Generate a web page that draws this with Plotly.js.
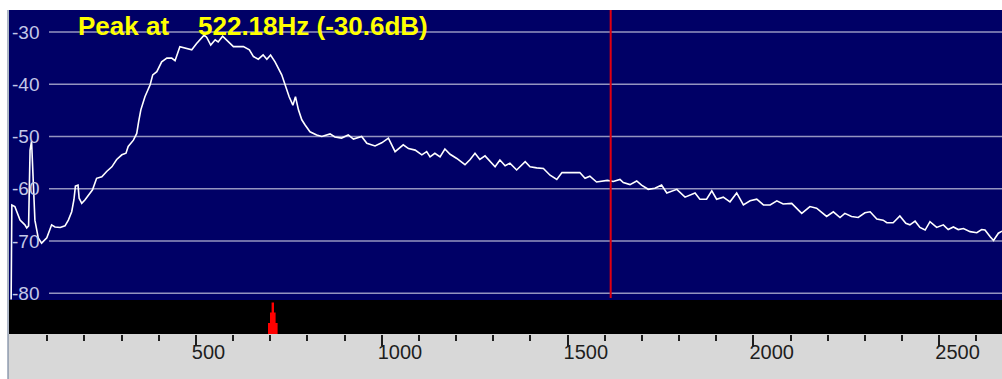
<!DOCTYPE html>
<html>
<head>
<meta charset="utf-8">
<script src="https://cdn.plot.ly/plotly-3.0.1.min.js"></script>
<style>
  html, body { margin: 0; padding: 0; background: #ffffff; }
  #spectrum { width: 1002px; height: 379px; }
</style>
</head>
<body>
<div id="spectrum"></div>
<script>
// Spectrum trace: frequency (Hz) and level (dB)
const freqHz = [
  3, 5, 13, 27, 40, 45, 50, 54, 58, 62, 67, 76, 85, 99, 112, 121, 135, 148, 157, 166,
  172, 176, 183, 186, 193, 202, 211, 222, 233, 247, 260, 274, 287, 301, 312, 318, 332, 341, 346, 352,
  363, 377, 384, 395, 408, 422, 435, 444, 457, 471, 489, 502, 516, 522.18, 529, 540, 552, 560, 572, 583,
  601, 628, 644, 655, 668, 681, 691, 701, 713, 731, 740, 751, 761, 768, 776, 785, 794, 807, 825, 839,
  861, 874, 892, 910, 924, 946, 960, 982, 1000, 1018, 1036, 1058, 1072, 1090, 1108, 1121, 1130, 1143, 1157, 1170,
  1184, 1202, 1224, 1238, 1251, 1264, 1278, 1291, 1305, 1318, 1332, 1345, 1363, 1386, 1399, 1417, 1435, 1453, 1471, 1485,
  1511, 1533, 1547, 1560, 1578, 1607, 1623, 1641, 1650, 1668, 1686, 1699, 1717, 1735, 1753, 1767, 1794, 1816, 1843, 1856,
  1874, 1888, 1901, 1919, 1937, 1955, 1973, 1991, 2009, 2027, 2045, 2063, 2080, 2103, 2130, 2152, 2170, 2197, 2215, 2233,
  2246, 2264, 2282, 2300, 2314, 2332, 2349, 2359, 2376, 2394, 2410, 2421, 2435, 2448, 2462, 2475, 2493, 2511, 2524, 2538,
  2551, 2565, 2583, 2601, 2614, 2623, 2637, 2646, 2659, 2669
];
const levelDb = [
  -81.2, -63.1, -63.4, -66.0, -66.9, -67.5, -67.1, -52.6, -50.9, -57.9, -66.0, -69.4, -70.4, -69.4, -66.9, -67.3, -67.4, -67.1, -66.0, -64.4,
  -62.1, -59.5, -59.3, -61.8, -62.8, -62.1, -61.2, -60.2, -58.0, -57.7, -56.7, -55.8, -54.4, -53.5, -53.2, -51.9, -50.7, -49.4, -47.2, -44.9,
  -42.4, -40.1, -38.2, -37.6, -35.7, -35.0, -35.0, -35.5, -32.8, -33.1, -33.4, -32.2, -31.2, -30.6, -31.0, -32.5, -31.5, -31.9, -30.8, -31.5,
  -32.8, -32.8, -33.4, -34.7, -35.2, -34.4, -35.2, -34.4, -35.7, -38.2, -40.3, -42.4, -44.0, -42.4, -44.9, -46.8, -47.8, -49.1, -49.7, -50.0,
  -49.5, -50.1, -50.3, -49.7, -50.5, -50.0, -51.3, -51.8, -51.2, -50.3, -52.9, -51.6, -52.3, -52.6, -53.5, -52.9, -53.9, -53.2, -53.9, -52.4,
  -53.4, -54.2, -55.4, -54.4, -53.2, -54.4, -53.7, -54.8, -55.8, -54.5, -55.6, -55.1, -56.4, -54.8, -55.8, -56.0, -56.1, -57.4, -58.2, -56.9,
  -56.9, -56.9, -58.0, -57.6, -58.7, -58.4, -58.6, -58.2, -58.8, -59.2, -58.5, -59.3, -60.1, -59.9, -59.3, -60.8, -60.1, -61.6, -60.8, -62.0,
  -62.0, -60.4, -62.0, -61.6, -62.5, -60.8, -63.1, -62.3, -62.0, -63.1, -63.1, -62.3, -62.9, -62.8, -64.7, -63.4, -63.7, -65.3, -64.4, -65.5,
  -64.7, -65.3, -65.5, -64.6, -64.4, -65.8, -66.0, -66.5, -66.5, -65.2, -66.6, -66.9, -66.2, -67.4, -67.9, -66.3, -67.4, -66.9, -67.8, -67.3,
  -67.8, -67.6, -68.2, -68.4, -67.8, -67.9, -69.2, -69.9, -68.5, -68.1
];

// Detected peak, cursor and tuning marker
const peakFreq = 522.18;
const peakDb = -30.6;
const cursorFreq = 1616;
const markerFreq = 707;

// Axis ticks
const yTickVals = [-30, -40, -50, -60, -70, -80];
const yTickText = ['-30', '-40', '-50', '-60', '-70', '-80'];
const xTickVals = [0, 500, 1000, 1500, 2000, 2500];
const xMinorStep = 100;

// Frame geometry (pixels)
const W = 1002, H = 379;
const M = { l: 9, r: 0, t: 10, b: 45 };
const plotW = W - M.l - M.r;
const plotH = H - M.t - M.b;
const bandTopPx = 300;          // top of the black strip under the spectrum
const gridStartPx = 49;         // grid lines start right of the dB labels
const hzPerPx = 2.6903;
const dbPerPx = 1 / 5.226;
const zeroPx = 10;              // x pixel of 0 Hz
const refPx = 32;               // y pixel of -30 dB

const px2paperX = px => (px - M.l) / plotW;
const py2paperY = py => (M.t + plotH - py) / plotH;

const xRange = [(M.l - zeroPx) * hzPerPx, (W - M.r - zeroPx) * hzPerPx];
const yRange = [-30 - (M.t + plotH - refPx) * dbPerPx, -30 + (refPx - M.t) * dbPerPx];

const shapes = [];

// light grey ruler area under the plot
shapes.push({
  type: 'rect', layer: 'below', xref: 'paper', yref: 'paper',
  x0: px2paperX(M.l - 1), x1: 1, y0: py2paperY(H), y1: 0,
  fillcolor: '#d8d8d8', line: { width: 0 }
});

// black strip
shapes.push({
  type: 'rect', layer: 'below', xref: 'paper', yref: 'paper',
  x0: 0, x1: 1, y0: 0, y1: py2paperY(bandTopPx),
  fillcolor: '#000000', line: { width: 0 }
});

// horizontal dB grid lines
yTickVals.forEach(v => {
  shapes.push({
    type: 'line', layer: 'below', xref: 'paper', yref: 'y',
    x0: px2paperX(gridStartPx), x1: 1, y0: v, y1: v,
    line: { color: '#9494c0', width: 1.6 }
  });
});

// cursor line
shapes.push({
  type: 'line', layer: 'above', xref: 'x', yref: 'paper',
  x0: cursorFreq, x1: cursorFreq, y0: py2paperY(bandTopPx - 2), y1: 1,
  line: { color: '#e00010', width: 2 }
});

// tuning marker in the black strip (stepped spike)
[
  { half: 1.2, top: 302.5, bottom: 313 },
  { half: 2.8, top: 312.5, bottom: 323.5 },
  { half: 4.8, top: 323, bottom: 334 }
].forEach(s => {
  shapes.push({
    type: 'rect', layer: 'above', xref: 'x', yref: 'paper',
    xsizemode: 'pixel', xanchor: markerFreq, x0: -s.half, x1: s.half,
    y0: py2paperY(s.bottom), y1: py2paperY(s.top),
    fillcolor: '#ff0000', line: { width: 0 }
  });
});

// white margin at the far left and window edge line
shapes.push({
  type: 'rect', layer: 'above', xref: 'paper', yref: 'paper',
  x0: px2paperX(0), x1: px2paperX(7.5), y0: py2paperY(H), y1: py2paperY(0),
  fillcolor: '#ffffff', line: { width: 0 }
});
shapes.push({
  type: 'line', layer: 'above', xref: 'paper', yref: 'paper',
  x0: px2paperX(8), x1: px2paperX(8), y0: py2paperY(H), y1: 1,
  line: { color: '#7888a0', width: 1.2 }
});

const labelFont = { family: 'Liberation Sans, Arial, sans-serif', size: 26, color: '#ffff00', weight: 'bold' };

const annotations = [
  {
    xref: 'paper', yref: 'paper', x: px2paperX(76), y: py2paperY(26),
    xanchor: 'left', yanchor: 'middle', showarrow: false,
    text: 'Peak at', font: labelFont
  },
  {
    xref: 'paper', yref: 'paper', x: px2paperX(195.5), y: py2paperY(26),
    xanchor: 'left', yanchor: 'middle', showarrow: false,
    text: peakFreq.toFixed(2) + 'Hz (' + peakDb.toFixed(1) + 'dB)', font: labelFont
  }
];

const trace = {
  type: 'scatter', mode: 'lines',
  x: freqHz, y: levelDb,
  line: { color: '#ffffff', width: 1.6 },
  hoverinfo: 'skip'
};

const layout = {
  width: W, height: H,
  margin: { l: M.l, r: M.r, t: M.t, b: M.b, pad: 0 },
  paper_bgcolor: '#ffffff',
  plot_bgcolor: '#000066',
  showlegend: false,
  font: { family: 'Liberation Sans, Arial, sans-serif' },
  xaxis: {
    range: xRange, fixedrange: true,
    showgrid: false, zeroline: false, showline: false,
    tickmode: 'array', tickvals: xTickVals,
    ticks: 'outside', ticklen: 11, tickwidth: 2, tickcolor: '#1e1e1e',
    ticklabelposition: 'outside right', ticklabelshift: -5, ticklabeloverflow: 'allow',
    tickfont: { size: 20, color: '#1e1e1e' },
    minor: { tickmode: 'linear', tick0: 0, dtick: xMinorStep, ticks: 'outside', ticklen: 6, tickwidth: 2, tickcolor: '#1e1e1e', showgrid: false }
  },
  yaxis: {
    range: yRange, fixedrange: true,
    showgrid: false, zeroline: false, showline: false,
    tickmode: 'array', tickvals: yTickVals, ticktext: yTickText,
    ticks: '', ticklabelposition: 'inside',
    tickfont: { size: 19, color: '#c4c8e8' }
  },
  shapes: shapes,
  annotations: annotations
};

Plotly.newPlot('spectrum', [trace], layout, { staticPlot: true, displayModeBar: false });
</script>
</body>
</html>
